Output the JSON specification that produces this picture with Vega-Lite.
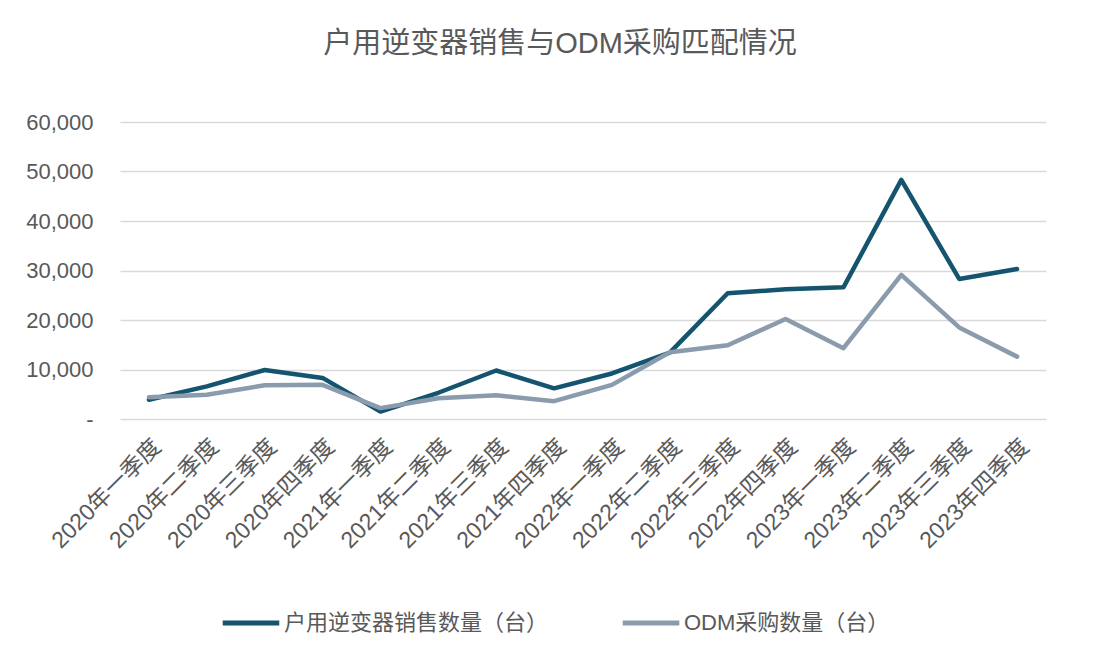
{
  "$schema": "https://vega.github.io/schema/vega-lite/v6.json",
  "width": 926,
  "height": 297,
  "autosize": {"type": "none"},
  "padding": {"left": 120, "top": 122, "right": 56, "bottom": 234},
  "background": "white",
  "config": {
    "font": "Liberation Sans, Noto Sans CJK SC, sans-serif",
    "view": {"stroke": null}
  },
  "title": {
    "text": "户用逆变器销售与ODM采购匹配情况",
    "fontSize": 29,
    "fontWeight": "normal",
    "color": "#595959",
    "anchor": "middle",
    "dx": -23,
    "offset": 52,
    "font": "Liberation Sans, Noto Sans CJK SC, sans-serif"
  },
  "data": {
    "values": [
      {"quarter": "2020年一季度", "series": "户用逆变器销售数量（台）", "value": 3900},
      {"quarter": "2020年二季度", "series": "户用逆变器销售数量（台）", "value": 6600},
      {"quarter": "2020年三季度", "series": "户用逆变器销售数量（台）", "value": 9900},
      {"quarter": "2020年四季度", "series": "户用逆变器销售数量（台）", "value": 8300},
      {"quarter": "2021年一季度", "series": "户用逆变器销售数量（台）", "value": 1500},
      {"quarter": "2021年二季度", "series": "户用逆变器销售数量（台）", "value": 5300},
      {"quarter": "2021年三季度", "series": "户用逆变器销售数量（台）", "value": 9800},
      {"quarter": "2021年四季度", "series": "户用逆变器销售数量（台）", "value": 6200},
      {"quarter": "2022年一季度", "series": "户用逆变器销售数量（台）", "value": 9200},
      {"quarter": "2022年二季度", "series": "户用逆变器销售数量（台）", "value": 13400},
      {"quarter": "2022年三季度", "series": "户用逆变器销售数量（台）", "value": 25400},
      {"quarter": "2022年四季度", "series": "户用逆变器销售数量（台）", "value": 26200},
      {"quarter": "2023年一季度", "series": "户用逆变器销售数量（台）", "value": 26600},
      {"quarter": "2023年二季度", "series": "户用逆变器销售数量（台）", "value": 48300},
      {"quarter": "2023年三季度", "series": "户用逆变器销售数量（台）", "value": 28300},
      {"quarter": "2023年四季度", "series": "户用逆变器销售数量（台）", "value": 30300},
      {"quarter": "2020年一季度", "series": "ODM采购数量（台）", "value": 4400},
      {"quarter": "2020年二季度", "series": "ODM采购数量（台）", "value": 4900},
      {"quarter": "2020年三季度", "series": "ODM采购数量（台）", "value": 6800},
      {"quarter": "2020年四季度", "series": "ODM采购数量（台）", "value": 6900},
      {"quarter": "2021年一季度", "series": "ODM采购数量（台）", "value": 2200},
      {"quarter": "2021年二季度", "series": "ODM采购数量（台）", "value": 4200},
      {"quarter": "2021年三季度", "series": "ODM采购数量（台）", "value": 4800},
      {"quarter": "2021年四季度", "series": "ODM采购数量（台）", "value": 3600},
      {"quarter": "2022年一季度", "series": "ODM采购数量（台）", "value": 6900},
      {"quarter": "2022年二季度", "series": "ODM采购数量（台）", "value": 13500},
      {"quarter": "2022年三季度", "series": "ODM采购数量（台）", "value": 14900},
      {"quarter": "2022年四季度", "series": "ODM采购数量（台）", "value": 20200},
      {"quarter": "2023年一季度", "series": "ODM采购数量（台）", "value": 14300},
      {"quarter": "2023年二季度", "series": "ODM采购数量（台）", "value": 29100},
      {"quarter": "2023年三季度", "series": "ODM采购数量（台）", "value": 18500},
      {"quarter": "2023年四季度", "series": "ODM采购数量（台）", "value": 12600}
    ]
  },
  "mark": {"type": "line", "strokeWidth": 4.5, "strokeCap": "round", "strokeJoin": "round"},
  "encoding": {
    "x": {
      "field": "quarter",
      "type": "ordinal",
      "sort": null,
      "scale": {"type": "point", "padding": 0.5},
      "axis": {
        "title": null,
        "labelAngle": -45,
        "labelFontSize": 23,
        "labelColor": "#595959",
        "labelPadding": 16,
        "ticks": false,
        "domain": false,
        "grid": false,
        "labelFont": "Liberation Sans, Noto Sans CJK SC, sans-serif"
      }
    },
    "y": {
      "field": "value",
      "type": "quantitative",
      "scale": {"domain": [0, 60000], "nice": false},
      "axis": {
        "title": null,
        "values": [0, 10000, 20000, 30000, 40000, 50000, 60000],
        "labelExpr": "datum.value == 0 ? '-' : format(datum.value, ',d')",
        "labelFontSize": 22,
        "labelColor": "#595959",
        "labelPadding": 27,
        "ticks": false,
        "domain": false,
        "gridColor": "#d9d9d9",
        "gridWidth": 1.5
      }
    },
    "color": {
      "field": "series",
      "type": "nominal",
      "scale": {
        "domain": ["户用逆变器销售数量（台）", "ODM采购数量（台）"],
        "range": ["#15546f", "#8a9bad"]
      },
      "legend": {
        "title": null,
        "orient": "none",
        "direction": "horizontal",
        "legendX": 100,
        "legendY": 470,
        "symbolType": "stroke",
        "symbolSize": 3200,
        "symbolStrokeWidth": 5,
        "labelFontSize": 22,
        "labelColor": "#595959",
        "labelOffset": 2,
        "columnPadding": 63,
        "labelLimit": 400
      }
    }
  }
}
